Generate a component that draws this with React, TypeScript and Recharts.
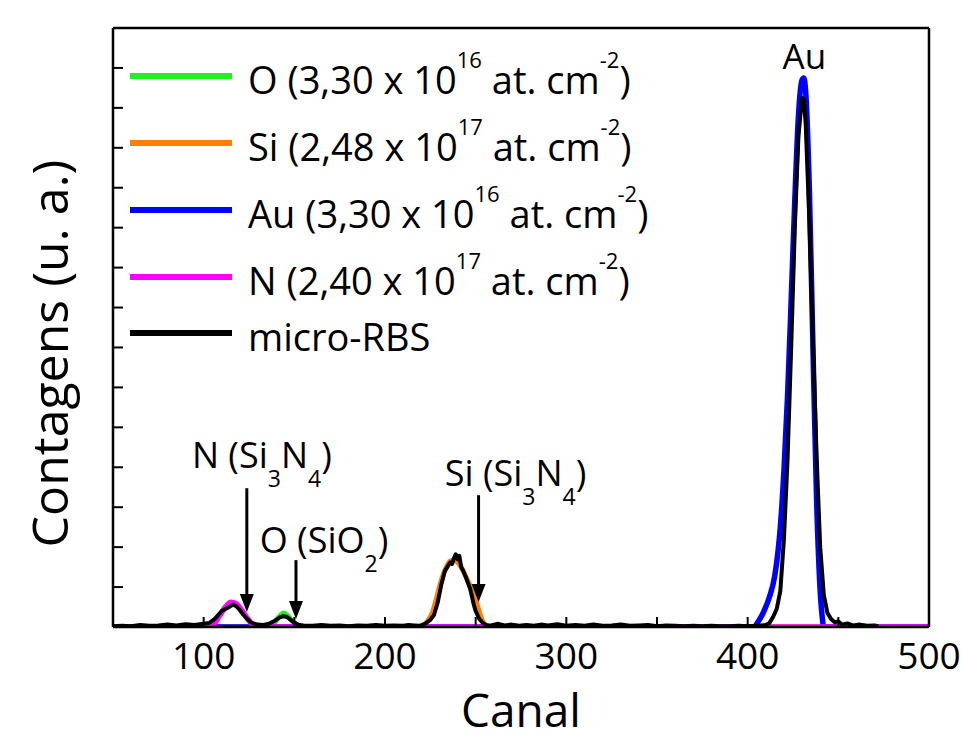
import React from 'react';
import { LineChart, Line, XAxis, YAxis, ReferenceLine, ReferenceDot, Label } from 'recharts';

// simulated O peak
const oCh = [50, 136, 139, 142, 144, 146, 149, 152, 154, 500];
const oVal = [0, 0, 0.1, 0.28, 0.35, 0.3, 0.14, 0.03, 0, 0];

// simulated Si peak
const siCh = [50, 218, 221, 224, 226, 228, 230, 232, 234, 236, 238, 240, 242, 244, 246, 248, 250, 252, 254, 256, 258, 500];
const siVal = [0, 0, 0.04, 0.18, 0.35, 0.65, 1.0, 1.3, 1.52, 1.65, 1.68, 1.62, 1.5, 1.32, 1.12, 0.92, 0.68, 0.38, 0.12, 0.02, 0, 0];

// simulated Au peak
const auCh = [50, 400, 403, 406, 409, 412, 415, 418, 420, 422, 424, 426, 428, 430, 431, 432, 434, 436, 438, 440, 441, 442, 500];
const auVal = [0, 0, 0, 0.15, 0.4, 0.75, 1.3, 2.5, 3.9, 5.8, 8.2, 10.7, 12.8, 13.7, 13.75, 13.4, 11.0, 7.0, 3.2, 0.9, 0.3, 0, 0];

// simulated N peak
const nCh = [50, 103, 106, 109, 112, 115, 118, 121, 124, 127, 130, 500];
const nVal = [0, 0, 0.1, 0.3, 0.5, 0.62, 0.58, 0.42, 0.22, 0.06, 0, 0];

// measured micro-RBS spectrum
const rbsCh = [
  50, 55, 60, 65, 70, 75, 80, 85, 90, 95, 100, 103, 106, 108, 110, 112, 114, 116, 118, 120,
  122, 124, 126, 128, 130, 133, 136, 139, 142, 144, 146, 148, 150, 152, 155, 160, 165, 170, 175, 180,
  185, 190, 195, 200, 205, 210, 213, 216, 219, 222, 225, 227, 229, 231, 233, 235, 236, 237, 238, 239,
  240, 241, 242, 243, 245, 247, 249, 250, 252, 254, 256, 258, 262, 266, 270, 274, 278, 282, 286, 290,
  295, 300, 305, 310, 315, 320, 325, 330, 335, 340, 345, 350, 355, 360, 365, 370, 375, 380, 385, 390,
  395, 400, 405, 410, 412, 414, 416, 418, 420, 422, 424, 426, 428, 430, 431, 432, 434, 436, 438, 440,
  442, 444, 446, 448, 450, 452, 455, 458, 462, 466, 470, 472,
];
const rbsVal = [
  0.02, 0.03, 0.02, 0.05, 0.03, 0.04, 0.06, 0.04, 0.07, 0.05, 0.08, 0.1, 0.2, 0.3, 0.4, 0.45, 0.5, 0.56, 0.52, 0.42,
  0.3, 0.2, 0.12, 0.08, 0.06, 0.05, 0.08, 0.15, 0.24, 0.27, 0.25, 0.18, 0.11, 0.06, 0.04, 0.03, 0.05, 0.03, 0.04, 0.02,
  0.04, 0.03, 0.05, 0.03, 0.04, 0.03, 0.05, 0.04, 0.03, 0.08, 0.18, 0.3, 0.6, 1.05, 1.4, 1.55, 1.62, 1.58, 1.72, 1.82,
  1.7, 1.78, 1.5, 1.42, 1.2, 0.95, 0.55, 0.4, 0.2, 0.1, 0.05, 0.03, 0.08, 0.04, 0.06, 0.03, 0.05, 0.03, 0.06, 0.04,
  0.07, 0.03, 0.05, 0.03, 0.06, 0.03, 0.04, 0.06, 0.03, 0.04, 0.05, 0.02, 0.04, 0.03, 0.02, 0.03, 0.02, 0.03, 0.02, 0.02,
  0.03, 0.02, 0.03, 0.05, 0.1, 0.25, 0.45, 0.9, 2.2, 4.2, 7.0, 10.0, 12.3, 13.25, 13.2, 12.6, 10.2, 7.2, 4.3, 2.0,
  0.8, 0.35, 0.2, 0.12, 0.14, 0.06, 0.09, 0.04, 0.06, 0.03, 0.04, 0.02,
];

const xTicks = [50, 100, 150, 200, 250, 300, 350, 400, 450, 500];
const yTicks = [0, 1, 2, 3, 4, 5, 6, 7, 8, 9, 10, 11, 12, 13, 14, 15];

// legend entries
const elements = ['O', 'Si', 'Au', 'N'];
const doses = ['3,30', '2,48', '3,30', '2,40'];
const exponents = ['16', '17', '16', '17'];
const colors = ['#22ee22', '#ff8000', '#0000ff', '#ff00ff'];

// arrows: channel, top, tip
const arrowCh = [123.8, 150.9, 251.6];
const arrowTop = [3.475, 1.675, 3.3];
const arrowTip = [0.375, 0.2, 0.625];

// labels: channel, value (baseline)
const labelMain = ['N (Si', 'O (SiO', 'Si (Si'];
const labelCh = [132.1, 166.4, 272];
const labelVal = [3.975, 1.85, 3.525];

const FONT = "'Open Sans', sans-serif";

const zip = (xs: number[], ys: number[]) => xs.map((ch, i) => ({ ch, v: ys[i] }));

const BottomTick = (props: any) => {
  const { x, y, payload } = props;
  return (
    <g>
      <line x1={x} x2={x} y1={y} y2={y - 10} stroke="#000" strokeWidth={2} />
      {payload.value % 100 === 0 && (
        <text x={x} y={y + 42} textAnchor="middle" fontSize={37} fontFamily={FONT} fill="#000">
          {payload.value}
        </text>
      )}
    </g>
  );
};
const TopTick = ({ x, y }: any) => <line x1={x} x2={x} y1={y} y2={y + 10} stroke="#000" strokeWidth={2} />;
const LeftTick = ({ x, y }: any) => <line x1={x} x2={x + 10} y1={y} y2={y} stroke="#000" strokeWidth={2} />;
const RightTick = ({ x, y }: any) => <line x1={x} x2={x - 10} y1={y} y2={y} stroke="#000" strokeWidth={2} />;

const Arrow = ({ x1, y1, x2, y2 }: any) => (
  <g>
    <line x1={x1} y1={y1} x2={x2} y2={y2 - 14} stroke="#000" strokeWidth={3} />
    <polygon points={`${x2},${y2} ${x2 - 7},${y2 - 18} ${x2 + 7},${y2 - 18}`} fill="#000" />
  </g>
);

const makeLabel = (i: number) => ({ cx, cy }: any) => (
  <text x={cx} y={cy} textAnchor="middle" fontSize={36} fontFamily={FONT} fill="#000">
    {labelMain[i]}
    {i === 1 ? (
      <>
        <tspan fontSize={23} dy={19}>2</tspan>
        <tspan dy={-19}>)</tspan>
      </>
    ) : (
      <>
        <tspan fontSize={23} dy={19}>3</tspan>
        <tspan dy={-19}>N</tspan>
        <tspan fontSize={23} dy={19}>4</tspan>
        <tspan dy={-19}>)</tspan>
      </>
    )}
  </text>
);

const Sup = ({ children }: any) => (
  <span style={{ fontSize: 22, position: 'relative', top: -26 }}>{children}</span>
);

const LegendBox = () => {
  const rows = elements.map((el, i) => ({
    color: colors[i],
    text: (
      <>
        {`${el} (${doses[i]} x 10`}
        <Sup>{exponents[i]}</Sup>
        {' at. cm'}
        <Sup>-2</Sup>
        {')'}
      </>
    ),
    sup: true,
  }));
  rows.push({ color: '#000', text: <>micro-RBS</>, sup: false });
  return (
    <div style={{ position: 'absolute', left: 130, top: 37, fontFamily: FONT, fontSize: 38 }}>
      {rows.map((r, i) => (
        <div key={i} style={{ display: 'flex', alignItems: 'center', height: 56, paddingTop: r.sup ? 11 : 0 }}>
          <div style={{ width: 102, height: 6, background: r.color, marginRight: 16 }} />
          <div style={{ whiteSpace: 'pre', position: 'relative', top: 3 }}>{r.text}</div>
        </div>
      ))}
    </div>
  );
};

export default function App() {
  return (
    <div style={{ position: 'relative', width: 963, height: 742 }}>
      <style>{'body{margin:0}'}</style>
      <LineChart width={963} height={742} margin={{ top: 0, right: 0, bottom: 0, left: 0 }}>
        <XAxis
          dataKey="ch" type="number" domain={[50, 500]} ticks={xTicks} interval={0}
          height={115} tickSize={0} tickMargin={0} tick={<BottomTick />}
          axisLine={{ stroke: '#000', strokeWidth: 2.5 }} allowDataOverflow
        >
          <Label
            content={({ viewBox }: any) => (
              <text x={viewBox.x + viewBox.width / 2} y={727} textAnchor="middle" fontSize={46} fontFamily={FONT} fill="#000">
                Canal
              </text>
            )}
          />
        </XAxis>
        <XAxis
          xAxisId="top" orientation="top" dataKey="ch" type="number" domain={[50, 500]} ticks={xTicks}
          interval={0} height={28} tickSize={0} tickMargin={0} tick={<TopTick />}
          axisLine={{ stroke: '#000', strokeWidth: 2.5 }}
        />
        <YAxis
          type="number" domain={[0, 15]} ticks={yTicks} interval={0} width={113} tickSize={0} tickMargin={0}
          tick={<LeftTick />} axisLine={{ stroke: '#000', strokeWidth: 2.5 }} allowDataOverflow
        >
          <Label
            content={({ viewBox }: any) => {
              const cy = viewBox.y + viewBox.height / 2 + 26;
              return (
                <text x={68} y={cy} transform={`rotate(-90 68 ${cy})`} textAnchor="middle" fontSize={50} fontFamily={FONT} fill="#000">
                  Contagens (u. a.)
                </text>
              );
            }}
          />
        </YAxis>
        <YAxis
          yAxisId="right" orientation="right" type="number" domain={[0, 15]} ticks={yTicks} interval={0}
          width={34} tickSize={0} tickMargin={0} tick={<RightTick />} axisLine={{ stroke: '#000', strokeWidth: 2.5 }}
        />
        <Line data={zip(oCh, oVal)} dataKey="v" type="monotone" stroke={colors[0]} strokeWidth={5} dot={false} isAnimationActive={false} />
        <Line data={zip(siCh, siVal)} dataKey="v" type="monotone" stroke={colors[1]} strokeWidth={5} dot={false} isAnimationActive={false} />
        <Line data={zip(auCh, auVal)} dataKey="v" type="monotone" stroke={colors[2]} strokeWidth={5.5} dot={false} isAnimationActive={false} />
        <Line data={zip(nCh, nVal)} dataKey="v" type="monotone" stroke={colors[3]} strokeWidth={5.5} dot={false} isAnimationActive={false} />
        <Line data={zip(rbsCh, rbsVal)} dataKey="v" type="linear" stroke="#000" strokeWidth={4} strokeLinejoin="round" dot={false} isAnimationActive={false} />
        {arrowCh.map((ch, i) => (
          <ReferenceLine key={`a${i}`} segment={[{ x: ch, y: arrowTop[i] }, { x: ch, y: arrowTip[i] }]} shape={Arrow} />
        ))}
        {labelCh.map((ch, i) => (
          <ReferenceDot key={`l${i}`} x={ch} y={labelVal[i]} r={0} shape={makeLabel(i)} />
        ))}
        <ReferenceDot
          x={431.3} y={13.975} r={0}
          shape={({ cx, cy }: any) => (
            <text x={cx} y={cy} textAnchor="middle" fontSize={35} fontFamily={FONT} fill="#000">Au</text>
          )}
        />
      </LineChart>
      <LegendBox />
    </div>
  );
}
